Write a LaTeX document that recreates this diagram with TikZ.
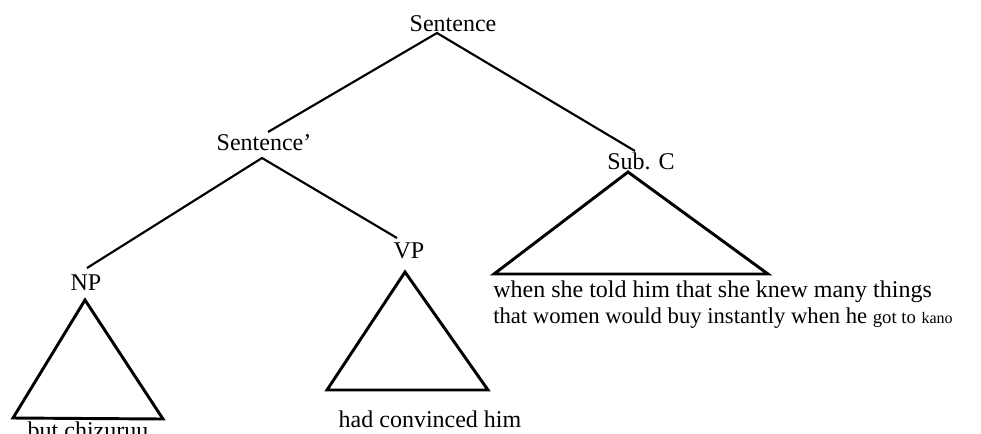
\documentclass[tikz,border=0pt]{standalone}
\usepackage{fontspec}
\setmainfont{Liberation Serif}
\usepackage{tikz}
\usetikzlibrary{positioning, calc}

\begin{document}
\begin{tikzpicture}[
    x=0.75pt, y=-0.75pt,  % <── pixel grid of the scan
    every node/.style={font=\fontsize{18}{20}\selectfont, inner sep=0pt},
    branch/.style={line width=1.6pt},
    tri_edge/.style={line width=2.2pt, line join=miter}
    ]
    \useasboundingbox (0,0) rectangle (981,433);

    % Nodes
    \node (sent) at (453,24) {Sentence};
    \node (sentp) at (264,143) {Sentence'};
    \node (subc) at (641,161) {Sub. C};
    \node (np) at (86,283) {NP};
    \node (vp) at (409,251) {VP};

    % Branch ends
    \coordinate (sent_dn) at (437,33);
    \coordinate (sentp_up) at (268,132);
    \coordinate (subc_up) at (635,151);
    \coordinate (sentp_dn) at (262,158);
    \coordinate (np_up) at (87,268);
    \coordinate (vp_up) at (397,238);

    % Triangle corners
    \coordinate (subc_top) at (628,172);
    \coordinate (subc_l) at (494,274);
    \coordinate (subc_r) at (768,274);
    \coordinate (np_top) at (85,300);
    \coordinate (np_l) at (13,418);
    \coordinate (np_r) at (163,419);
    \coordinate (vp_top) at (405,272);
    \coordinate (vp_l) at (327,390);
    \coordinate (vp_r) at (488,390);

    % Leaves
    \node[anchor=base west] (subc_txt1) at (493,297) {when she told him that she knew many things};
    \node[anchor=base west, font=\fontsize{17}{19}\selectfont] (subc_txt2) at ([yshift=-20pt]subc_txt1.base west)
        {that women would buy instantly when he {\fontsize{14}{16}\selectfont got to} {\fontsize{12}{14}\selectfont kano}};
    \node[anchor=base] (vp_txt) at (430,427) {had convinced him};
    \node[anchor=base] (np_txt) at (88,438) {but chizuruu};

    % Branches
    \draw[branch] (sentp_up) -- (sent_dn) -- (subc_up);
    \draw[branch] (np_up) -- (sentp_dn) -- (vp_up);

    % Triangles
    \draw[tri_edge] (subc_top) -- (subc_l) -- (subc_r) -- cycle;
    \draw[tri_edge] (np_top) -- (np_l) -- (np_r) -- cycle;
    \draw[tri_edge] (vp_top) -- (vp_l) -- (vp_r) -- cycle;
\end{tikzpicture}
\end{document}
